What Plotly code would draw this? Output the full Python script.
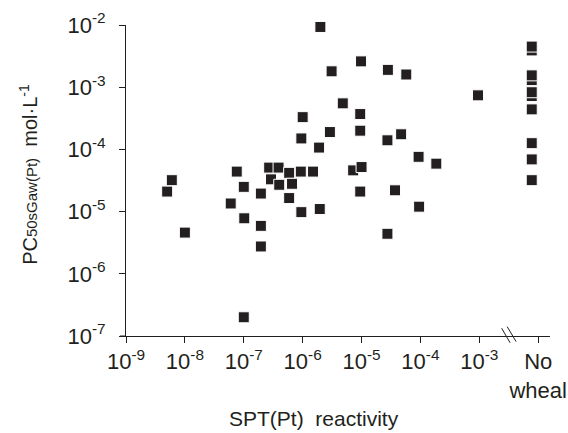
import plotly.graph_objects as go

# SPT(Pt) reactivity (x) and PC50sGaw(Pt) in mol/L (y) for subjects with a wheal
spt_reactivity = [
    5.0e-9, 6.0e-9, 1.0e-8, 6.0e-8, 7.6e-8, 1.0e-7, 1.02e-7, 1.0e-7,
    1.95e-7, 1.95e-7, 1.95e-7, 2.7e-7, 3.9e-7, 2.9e-7, 4.0e-7, 5.9e-7,
    6.6e-7, 5.9e-7, 9.3e-7, 9.5e-7, 1.0e-6, 9.5e-7, 1.5e-6, 1.9e-6,
    1.95e-6, 2.0e-6, 2.9e-6, 3.1e-6, 4.8e-6, 7.2e-6, 1.0e-5, 9.5e-6,
    9.5e-6, 9.5e-6, 9.8e-6, 2.75e-5, 2.8e-5, 2.75e-5, 3.7e-5, 4.7e-5,
    5.75e-5, 9.3e-5, 9.5e-5, 1.86e-4, 9.5e-4,
]
pc50_wheal = [
    2.1e-5, 3.2e-5, 4.6e-6, 1.35e-5, 4.4e-5, 2.5e-5, 7.8e-6, 2.0e-7,
    1.95e-5, 5.9e-6, 2.75e-6, 5.1e-5, 5.1e-5, 3.3e-5, 2.7e-5, 4.2e-5,
    2.8e-5, 1.65e-5, 4.4e-5, 9.8e-6, 3.3e-4, 1.5e-4, 4.4e-5, 1.07e-4,
    1.1e-5, 9.3e-3, 1.9e-4, 1.8e-3, 5.5e-4, 4.6e-5, 5.2e-5, 2.1e-5,
    3.7e-4, 2.0e-4, 2.6e-3, 1.4e-4, 1.9e-3, 4.4e-6, 2.2e-5, 1.75e-4,
    1.6e-3, 7.6e-5, 1.2e-5, 5.9e-5, 7.4e-4,
]
# subjects with no wheal (drawn in this order)
pc50_no_wheal = [
    3.9e-3, 1.3e-3, 7.2e-4,
    1.0e-2, 4.5e-3, 1.55e-3, 8.3e-4, 4.4e-4, 1.26e-4, 6.9e-5, 3.2e-5,
]

x_tick_vals = [1e-9, 1e-8, 1e-7, 1e-6, 1e-5, 1e-4, 1e-3, 1e-2]
x_tick_text = ["10<sup>-9</sup>", "10<sup>-8</sup>", "10<sup>-7</sup>", "10<sup>-6</sup>",
               "10<sup>-5</sup>", "10<sup>-4</sup>", "10<sup>-3</sup>", "No<br>wheal"]
y_tick_vals = [1e-7, 1e-6, 1e-5, 1e-4, 1e-3, 1e-2]
y_tick_text = ["10<sup>-7</sup>", "10<sup>-6</sup>", "10<sup>-5</sup>", "10<sup>-4</sup>",
               "10<sup>-3</sup>", "10<sup>-2</sup>"]

NO_WHEAL_X = 10 ** -2.11
INK = "#231f20"
FONT = "Liberation Sans, Arial, sans-serif"

marker = dict(symbol="square", size=11, color=INK, line=dict(color="white", width=1))

fig = go.Figure()
fig.add_trace(go.Scatter(x=spt_reactivity, y=pc50_wheal, mode="markers",
                         marker=marker, cliponaxis=False, showlegend=False))
fig.add_trace(go.Scatter(x=[NO_WHEAL_X] * len(pc50_no_wheal), y=pc50_no_wheal,
                         mode="markers", marker=marker, cliponaxis=False, showlegend=False))

axis_common = dict(type="log", showgrid=False, zeroline=False, showline=True,
                   linecolor=INK, linewidth=1, ticks="outside", ticklen=6,
                   tickcolor=INK, tickwidth=1, automargin=False,
                   ticklabeloverflow="allow",
                   tickfont=dict(family=FONT, size=22, color=INK))

fig.update_layout(
    width=568, height=433,
    margin=dict(l=126, r=18, t=25, b=97, autoexpand=False),
    paper_bgcolor="white", plot_bgcolor="white",
    font=dict(family=FONT, size=22, color=INK),
    xaxis=dict(range=[-9, -1.8], tickvals=x_tick_vals, ticktext=x_tick_text, **axis_common),
    yaxis=dict(range=[-7, -2], tickvals=y_tick_vals, ticktext=y_tick_text,
               ticklabelstandoff=9, **axis_common),
    annotations=[
        dict(text="SPT(Pt)  reactivity", xref="paper", yref="paper", x=0.443, y=-0.264,
             xanchor="center", yanchor="middle", showarrow=False,
             font=dict(family=FONT, size=21, color=INK)),
        dict(text="PC<span style='font-size:15px'>50sGaw(Pt)</span>  mol·L<sup>-1</sup>",
             xref="paper", yref="paper", x=-0.229, y=0.521, textangle=-90,
             xanchor="center", yanchor="middle", showarrow=False,
             font=dict(family=FONT, size=20, color=INK)),
    ],
    shapes=[
        dict(type="line", xref="x domain", yref="y domain", x0=-0.014, x1=0.0,
             y0=0, y1=0, line=dict(color=INK, width=1)),
        dict(type="line", xref="x domain", yref="y domain", x0=0.886, x1=0.906,
             y0=0.025, y1=-0.022, line=dict(color=INK, width=1)),
        dict(type="line", xref="x domain", yref="y domain", x0=0.899, x1=0.920,
             y0=0.030, y1=-0.018, line=dict(color=INK, width=1)),
    ],
)

fig.write_html("out.html", config={"displayModeBar": False},
               post_script="document.body.style.margin='0';")
